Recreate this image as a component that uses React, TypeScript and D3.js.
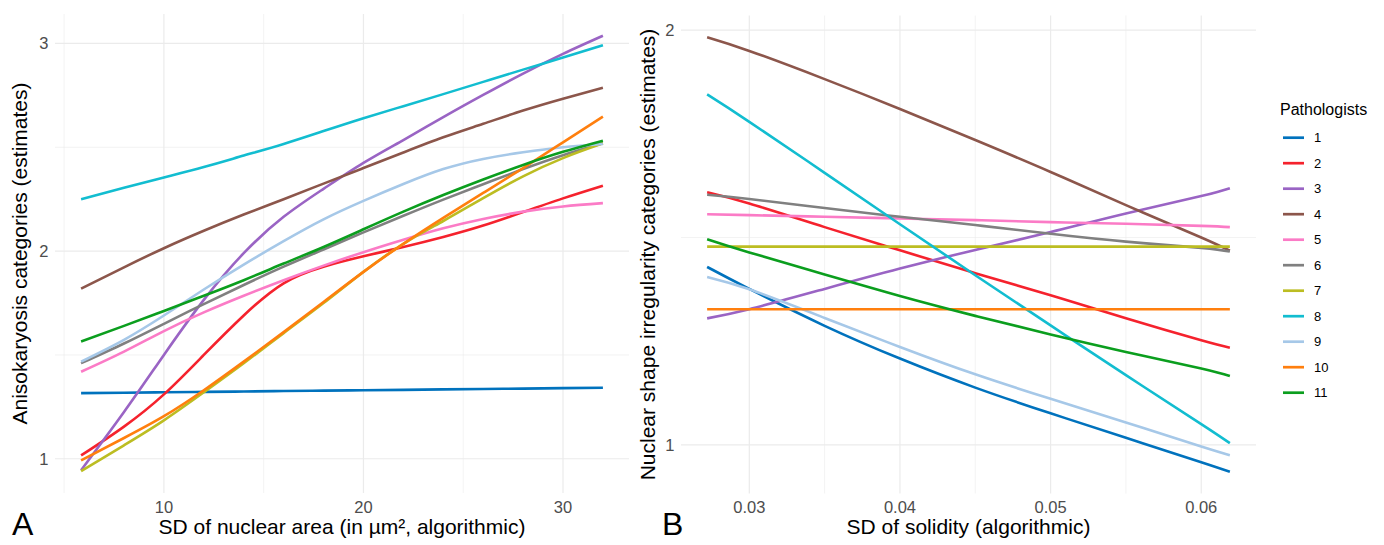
import { useRef, useEffect } from "react";
import { select, scaleLinear, line, curveNatural, extent } from "d3";

const WIDTH = 1384;
const HEIGHT = 545;
const FONT = "'Liberation Sans', Arial, Helvetica, sans-serif";

const pathologists = ["1", "2", "3", "4", "5", "6", "7", "8", "9", "10", "11"];
const colors = ["#0072BD", "#F5222D", "#9A64C4", "#8C564B", "#FB7BC6", "#808080",
  "#BCBD22", "#12BDD0", "#A6C8E8", "#FF7F0E", "#0B9E1E"];

// panel A: SD of nuclear area -> anisokaryosis estimates
const areaX = [5.85, 8, 10, 12, 14, 16, 18, 20, 22, 24, 26, 28, 30, 32];
const aniso1 = [1.316, 1.318, 1.320, 1.322, 1.324, 1.326, 1.328, 1.330, 1.332, 1.334, 1.336, 1.338, 1.340, 1.342];
const aniso2 = [1.016, 1.155, 1.31, 1.5, 1.69, 1.845, 1.925, 1.975, 2.02, 2.068, 2.123, 2.188, 2.254, 2.315];
const aniso3 = [0.945, 1.225, 1.5, 1.765, 1.99, 2.165, 2.3, 2.425, 2.535, 2.645, 2.752, 2.855, 2.95, 3.037];
const aniso4 = [1.819, 1.922, 2.014, 2.098, 2.176, 2.25, 2.325, 2.4, 2.475, 2.548, 2.613, 2.677, 2.734, 2.787];
const aniso5 = [1.419, 1.516, 1.615, 1.705, 1.785, 1.86, 1.93, 1.995, 2.055, 2.11, 2.155, 2.19, 2.215, 2.231];
const aniso6 = [1.46, 1.555, 1.65, 1.745, 1.837, 1.925, 2.008, 2.09, 2.17, 2.248, 2.322, 2.395, 2.462, 2.519];
const aniso7 = [0.94, 1.065, 1.185, 1.32, 1.46, 1.605, 1.75, 1.9, 2.035, 2.145, 2.255, 2.36, 2.448, 2.519];
const aniso8 = [2.25, 2.305, 2.355, 2.405, 2.46, 2.516, 2.578, 2.64, 2.698, 2.756, 2.815, 2.874, 2.932, 2.992];
const aniso9 = [1.468, 1.573, 1.69, 1.815, 1.935, 2.048, 2.153, 2.242, 2.323, 2.395, 2.444, 2.476, 2.5, 2.516];
const aniso10 = [0.992, 1.1, 1.205, 1.33, 1.468, 1.61, 1.755, 1.9, 2.035, 2.16, 2.28, 2.4, 2.524, 2.648];
const aniso11 = [1.565, 1.64, 1.712, 1.785, 1.86, 1.94, 2.02, 2.105, 2.19, 2.27, 2.345, 2.415, 2.478, 2.532];

// panel B: SD of solidity -> nuclear shape irregularity estimates
const solidityX = [0.0272, 0.03, 0.035, 0.04, 0.045, 0.05, 0.055, 0.06, 0.0619];
const shape1 = [1.429, 1.376, 1.287, 1.208, 1.138, 1.076, 1.017, 0.958, 0.935];
const shape2 = [1.609, 1.582, 1.525, 1.469, 1.414, 1.361, 1.305, 1.252, 1.234];
const shape3 = [1.305, 1.327, 1.376, 1.425, 1.47, 1.513, 1.558, 1.6, 1.619];
const shape4 = [1.983, 1.95, 1.882, 1.81, 1.735, 1.658, 1.578, 1.5, 1.468];
const shape5 = [1.556, 1.554, 1.55, 1.546, 1.542, 1.537, 1.533, 1.528, 1.525];
const shape6 = [1.603, 1.593, 1.571, 1.55, 1.53, 1.509, 1.49, 1.475, 1.466];
const shape7 = [1.478, 1.478, 1.478, 1.478, 1.478, 1.478, 1.478, 1.478, 1.478];
const shape8 = [1.845, 1.779, 1.656, 1.532, 1.409, 1.288, 1.168, 1.05, 1.004];
const shape9 = [1.405, 1.375, 1.306, 1.236, 1.17, 1.111, 1.054, 0.996, 0.975];
const shape10 = [1.327, 1.327, 1.327, 1.327, 1.327, 1.327, 1.327, 1.327, 1.327];
const shape11 = [1.496, 1.464, 1.411, 1.359, 1.311, 1.266, 1.224, 1.184, 1.166];

const areaTicks = [10, 20, 30];
const areaMinor = [5, 15, 25];
const anisoTicks = [1, 2, 3];
const anisoMinor = [1.5, 2.5];
const solidityTicks = [0.03, 0.04, 0.05, 0.06];
const solidityMinor = [0.035, 0.045, 0.055];
const shapeTicks = [1, 2];
const shapeMinor = [1.5];

const panels = [
  {
    tag: "A",
    box: { left: 55, right: 629, top: 14, bottom: 493 },
    xs: areaX,
    series: [aniso1, aniso2, aniso3, aniso4, aniso5, aniso6, aniso7, aniso8, aniso9, aniso10, aniso11],
    xTicks: areaTicks, xMinor: areaMinor, yTicks: anisoTicks, yMinor: anisoMinor,
    xLabel: "SD of nuclear area (in µm², algorithmic)",
    yLabel: "Anisokaryosis categories (estimates)",
    yTitleX: 27, tagX: 12,
  },
  {
    tag: "B",
    box: { left: 681, right: 1256, top: 15.5, bottom: 493.5 },
    xs: solidityX,
    series: [shape1, shape2, shape3, shape4, shape5, shape6, shape7, shape8, shape9, shape10, shape11],
    xTicks: solidityTicks, xMinor: solidityMinor, yTicks: shapeTicks, yMinor: shapeMinor,
    xLabel: "SD of solidity (algorithmic)",
    yLabel: "Nuclear shape irregularity categories (estimates)",
    yTitleX: 655, tagX: 662,
  },
];

// ggplot-like 5% expansion
const expand = ([lo, hi]) => {
  const pad = (hi - lo) * 0.05;
  return [lo - pad, hi + pad];
};

function drawPanel(g, p) {
  const { box } = p;
  const x = scaleLinear().domain(expand(extent(p.xs))).range([box.left, box.right]);
  const y = scaleLinear().domain(expand(extent(p.series.flat()))).range([box.bottom, box.top]);

  // grid
  const grid = g.append("g");
  grid.selectAll(".vminor").data(p.xMinor).join("line")
    .attr("x1", d => x(d)).attr("x2", d => x(d))
    .attr("y1", box.top).attr("y2", box.bottom)
    .attr("stroke", "#EBEBEB").attr("stroke-width", 0.6);
  grid.selectAll(".hminor").data(p.yMinor).join("line")
    .attr("x1", box.left).attr("x2", box.right)
    .attr("y1", d => y(d)).attr("y2", d => y(d))
    .attr("stroke", "#EBEBEB").attr("stroke-width", 0.6);
  grid.selectAll(".vmajor").data(p.xTicks).join("line")
    .attr("x1", d => x(d)).attr("x2", d => x(d))
    .attr("y1", box.top).attr("y2", box.bottom)
    .attr("stroke", "#EBEBEB").attr("stroke-width", 1.2);
  grid.selectAll(".hmajor").data(p.yTicks).join("line")
    .attr("x1", box.left).attr("x2", box.right)
    .attr("y1", d => y(d)).attr("y2", d => y(d))
    .attr("stroke", "#EBEBEB").attr("stroke-width", 1.2);

  // tick labels
  g.append("g").selectAll("text").data(p.xTicks).join("text")
    .attr("x", d => x(d)).attr("y", 513)
    .attr("text-anchor", "middle")
    .style("font-size", "16.5px").style("fill", "#4D4D4D")
    .text(d => String(d));
  g.append("g").selectAll("text").data(p.yTicks).join("text")
    .attr("x", box.left - 6.5).attr("y", d => y(d))
    .attr("dy", "0.36em")
    .attr("text-anchor", "end")
    .style("font-size", "16.5px").style("fill", "#4D4D4D")
    .text(d => String(d));

  // lines
  const path = line().curve(curveNatural);
  g.append("g").selectAll("path").data(p.series).join("path")
    .attr("d", vals => path(vals.map((v, i) => [x(p.xs[i]), y(v)])))
    .attr("fill", "none")
    .attr("stroke", (_, i) => colors[i])
    .attr("stroke-width", 2.6)
    .attr("stroke-linecap", "butt");

  // titles
  g.append("text")
    .attr("x", (box.left + box.right) / 2).attr("y", 534)
    .attr("text-anchor", "middle")
    .style("font-size", "21px").style("fill", "#000")
    .text(p.xLabel);
  g.append("text")
    .attr("transform", `translate(${p.yTitleX}, ${(box.top + box.bottom) / 2}) rotate(-90)`)
    .attr("text-anchor", "middle")
    .style("font-size", "21px").style("fill", "#000")
    .text(p.yLabel);
  g.append("text")
    .attr("x", p.tagX).attr("y", 535)
    .style("font-size", "32px").style("fill", "#000")
    .text(p.tag);
}

function PathologistChart() {
  const svgRef = useRef(null);

  useEffect(() => {
    const svg = select(svgRef.current);
    svg.selectAll("*").remove();
    const root = svg.append("g").style("font-family", FONT);

    panels.forEach(p => drawPanel(root.append("g"), p));

    // legend
    const legend = root.append("g");
    legend.append("text")
      .attr("x", 1280).attr("y", 115)
      .style("font-size", "16px").style("fill", "#000")
      .text("Pathologists");
    legend.selectAll("line").data(pathologists).join("line")
      .attr("x1", 1283).attr("x2", 1304)
      .attr("y1", (_, i) => 137.7 + i * 25.5).attr("y2", (_, i) => 137.7 + i * 25.5)
      .attr("stroke", (_, i) => colors[i])
      .attr("stroke-width", 2.7);
    legend.selectAll(".label").data(pathologists).join("text")
      .attr("class", "label")
      .attr("x", 1314).attr("y", (_, i) => 137.7 + i * 25.5)
      .attr("dy", "0.36em")
      .style("font-size", "13px").style("fill", "#000")
      .text(d => d);
  }, []);

  return (
    <svg ref={svgRef} width={WIDTH} height={HEIGHT}
      style={{ position: "absolute", left: 0, top: 0, background: "#fff" }} />
  );
}

export default function App() {
  return <PathologistChart />;
}
